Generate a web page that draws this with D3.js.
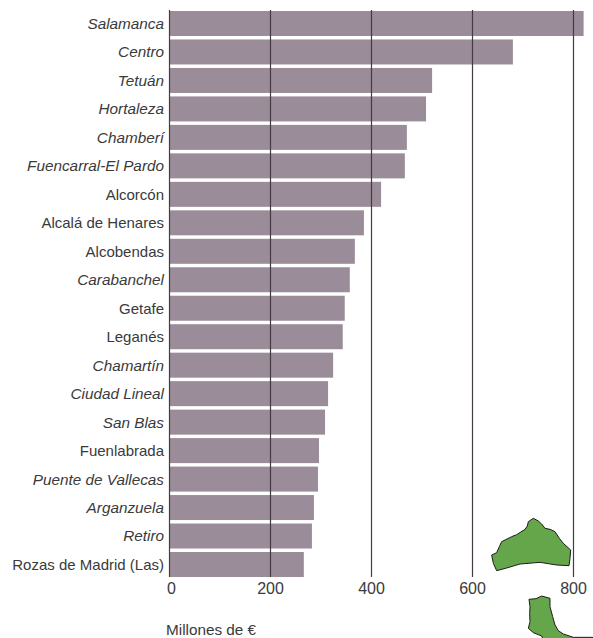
<!DOCTYPE html>
<html><head><meta charset="utf-8">
<script src="https://cdn.jsdelivr.net/npm/d3@7"></script>
<style>html,body{margin:0;padding:0;background:#fff}svg{display:block}text{font-family:"Liberation Sans",Arial,sans-serif;fill:#3a3a3a;font-size:15px}</style>
</head><body><svg id="c" width="593" height="638"></svg>
<script>
const categories=["Salamanca","Centro","Tetuán","Hortaleza","Chamberí","Fuencarral-El Pardo","Alcorcón","Alcalá de Henares","Alcobendas","Carabanchel","Getafe","Leganés","Chamartín","Ciudad Lineal","San Blas","Fuenlabrada","Puente de Vallecas","Arganzuela","Retiro","Rozas de Madrid (Las)"];
const values=[820,680,520,508,470,466,419,385,367,357,347,343,324,314,308,296,294,286,282,266];
const italics=["Salamanca","Centro","Tetuán","Hortaleza","Chamberí","Fuencarral-El Pardo","Carabanchel","Chamartín","Ciudad Lineal","San Blas","Puente de Vallecas","Arganzuela","Retiro"];
const ticks=[0,200,400,600,800];
const mapTop=[[65,165],[80,158],[88,140],[95,125],[125,110],[140,104],[165,88],[172,78],[175,65],[190,55],[205,63],[215,72],[225,85],[240,88],[255,95],[268,115],[280,130],[302,150],[300,175],[297,197],[260,195],[210,187],[150,192],[110,204],[80,212],[70,190]];
const mapBottom=[[177,298],[198,296],[215,288],[240,295],[240,320],[248,350],[255,375],[265,392],[280,402],[310,412],[372,412],[372,420],[220,420],[215,408],[190,398],[175,385],[180,365],[179,340],[180,320]];

const svg=d3.select("#c");
const x=d3.scaleLinear().domain([0,800]).range([169.5,573.5]);
const y=d3.scaleBand().domain(categories).range([11,577]).paddingInner(0.122).paddingOuter(0).align(0);
svg.selectAll("rect.bar").data(categories).join("rect").attr("class","bar")
  .attr("x",x(0)).attr("y",d=>y(d)).attr("width",(d,i)=>x(values[i])-x(0)).attr("height",25).attr("fill","#9a8c98");
svg.selectAll("line.grid").data(ticks).join("line").attr("class","grid")
  .attr("x1",d=>x(d)).attr("x2",d=>x(d)).attr("y1",10).attr("y2",577)
  .attr("stroke","#453c41").attr("stroke-width",1.2);
svg.selectAll("text.cat").data(categories).join("text").attr("class","cat")
  .attr("x",164).attr("y",d=>y(d)+12.6).attr("dy","0.35em").attr("text-anchor","end")
  .style("font-style",d=>italics.includes(d)?"italic":"normal")
  .style("font-size",d=>italics.includes(d)?"15.3px":"15px").text(d=>d);
svg.selectAll("text.tick").data(ticks).join("text").attr("class","tick")
  .attr("x",d=>d===0?x(d)+2:x(d)).attr("y",594).attr("text-anchor","middle").style("font-size","16px").text(d=>d);
svg.append("text").attr("x",166).attr("y",635).style("font-size","15.3px").text("Millones de €");
const toPx=p=>[470+p[0]/3,500+p[1]/3];
const line=d3.line().curve(d3.curveLinearClosed);
[mapTop,mapBottom].forEach(s=>svg.append("path").attr("d",line(s.map(toPx))).attr("fill","#66a64a").attr("stroke","#1c1c1c").attr("stroke-width",1));
</script></body></html>
